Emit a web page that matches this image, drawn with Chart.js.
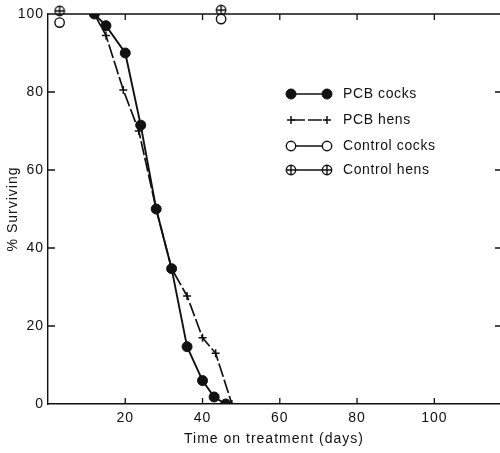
<!DOCTYPE html>
<html>
<head>
<meta charset="utf-8">
<script src="https://cdn.jsdelivr.net/npm/chart.js@4/dist/chart.umd.min.js"></script>
<style>
  html, body { margin: 0; padding: 0; background: #fff; }
  #wrap { width: 500px; height: 453px; }
</style>
</head>
<body>
<div id="wrap"><canvas id="survChart"></canvas></div>
<script>
// values: [day, % surviving]
const pcbCocksDays = [12, 15, 20, 24, 28, 32, 36, 40, 43, 46];
const pcbCocksSurv = [100, 97, 90, 71.5, 50, 34.7, 14.7, 6, 1.8, 0];
const pcbHensDays = [12, 15, 19.5, 23.5, 28, 32, 36, 40, 43.4, 47.6];
const pcbHensSurv = [100, 94.5, 80.5, 70, 50, 34.7, 27.7, 17, 13, 0];
const ctrlCocksDays = [3, 44.8];
const ctrlCocksSurv = [97.8, 98.7];
const ctrlHensDays = [3, 44.8];
const ctrlHensSurv = [100.8, 101];

const xTickValues = [20, 40, 60, 80, 100];
const yTickValues = [0, 20, 40, 60, 80, 100];
const legendLabels = ['PCB cocks', 'PCB hens', 'Control cocks', 'Control hens'];

const ink = '#111';
const fontFamily = '"Liberation Sans", Arial, sans-serif';

function pts(xs, ys) {
    return xs.map((x, i) => ({ x: x, y: ys[i] }));
}

// circle with a plus inside, for control hens
function circlePlus() {
    const c = document.createElement('canvas');
    c.width = 12; c.height = 12;
    const g = c.getContext('2d');
    g.strokeStyle = ink;
    g.lineWidth = 1.4;
    g.fillStyle = '#fff';
    g.beginPath();
    g.arc(6, 6, 4.7, 0, Math.PI * 2);
    g.fill();
    g.stroke();
    g.beginPath();
    g.moveTo(1.5, 6); g.lineTo(10.5, 6);
    g.moveTo(6, 1.5); g.lineTo(6, 10.5);
    g.stroke();
    return c;
}

// the print is slightly letter spaced
const spacing = {
    id: 'spacing',
    beforeLayout(chart) { chart.ctx.letterSpacing = '1px'; },
    beforeDraw(chart) { chart.ctx.letterSpacing = '1px'; }
};

const frame = {
    id: 'frame',
    afterDraw(chart) {
        const ctx = chart.ctx;
        const a = chart.chartArea;
        const xs = chart.scales.x, ys = chart.scales.y;
        ctx.save();
        ctx.strokeStyle = ink;
        ctx.lineWidth = 1.3;
        ctx.beginPath();
        // top border
        ctx.moveTo(a.left, a.top); ctx.lineTo(a.right, a.top);
        // inward ticks
        xTickValues.forEach(v => {
            const px = xs.getPixelForValue(v);
            ctx.moveTo(px, a.bottom); ctx.lineTo(px, a.bottom - 6);
            ctx.moveTo(px, a.top); ctx.lineTo(px, a.top + 6);
        });
        yTickValues.forEach(v => {
            if (v === 0 || v === 100) return;
            const py = ys.getPixelForValue(v);
            ctx.moveTo(a.left, py); ctx.lineTo(a.left + 7, py);
            ctx.moveTo(a.right, py); ctx.lineTo(a.right - 5, py);
        });
        ctx.stroke();
        ctx.restore();
    }
};

const legendBox = {
    id: 'legendBox',
    afterDatasetsDraw(chart) {
        const ctx = chart.ctx;
        const rows = [94, 120, 146, 170];
        const x1 = 291, x2 = 327, tx = 343;
        ctx.save();
        chart.data.datasets.forEach((ds, i) => {
            const y = rows[i];
            ctx.strokeStyle = ink;
            ctx.lineWidth = 1.6;
            ctx.setLineDash(ds.borderDash || []);
            ctx.beginPath();
            ctx.moveTo(x1, y); ctx.lineTo(x2, y);
            ctx.stroke();
            ctx.setLineDash([]);
            ctx.fillStyle = ds.pointBackgroundColor;
            ctx.lineWidth = ds.pointBorderWidth;
            [x1, x2].forEach(x => {
                Chart.helpers.drawPoint(ctx, {
                    pointStyle: ds.pointStyle,
                    radius: ds.pointRadius,
                    rotation: 0,
                    borderWidth: ds.pointBorderWidth
                }, x, y);
            });
            ctx.fillStyle = ink;
            ctx.font = '14px ' + fontFamily;
            ctx.letterSpacing = '0.6px';
            ctx.textBaseline = 'middle';
            ctx.fillText(legendLabels[i], tx, y);
        });
        ctx.restore();
    }
};

const ctx = document.getElementById('survChart').getContext('2d');
new Chart(ctx, {
    type: 'scatter',
    data: {
        datasets: [{
            label: legendLabels[0],
            data: pts(pcbCocksDays, pcbCocksSurv),
            showLine: true,
            borderColor: ink,
            borderWidth: 1.9,
            pointStyle: 'circle',
            pointRadius: 5,
            pointBackgroundColor: ink,
            pointBorderColor: ink,
            pointBorderWidth: 1
        }, {
            label: legendLabels[1],
            data: pts(pcbHensDays, pcbHensSurv),
            showLine: true,
            borderColor: ink,
            borderWidth: 1.7,
            borderDash: [14, 3],
            pointStyle: 'cross',
            pointRadius: 4,
            pointBackgroundColor: ink,
            pointBorderColor: ink,
            pointBorderWidth: 1.5
        }, {
            label: legendLabels[2],
            data: pts(ctrlCocksDays, ctrlCocksSurv),
            showLine: false,
            pointStyle: 'circle',
            pointRadius: 4.7,
            pointBackgroundColor: '#fff',
            pointBorderColor: ink,
            pointBorderWidth: 1.4,
            clip: false
        }, {
            label: legendLabels[3],
            data: pts(ctrlHensDays, ctrlHensSurv),
            showLine: false,
            pointStyle: circlePlus(),
            pointRadius: 5,
            pointBackgroundColor: '#fff',
            pointBorderColor: ink,
            pointBorderWidth: 1.4,
            clip: false
        }]
    },
    options: {
        responsive: true,
        maintainAspectRatio: false,
        animation: false,
        layout: { autoPadding: false, padding: { top: 14, right: 0, left: 0, bottom: 0 } },
        plugins: {
            legend: { display: false },
            tooltip: { enabled: false }
        },
        scales: {
            x: {
                type: 'linear',
                min: 0,
                max: 117,
                afterBuildTicks: s => { s.ticks = xTickValues.map(v => ({ value: v })); },
                afterFit: s => { s.height = 49; },
                grid: { display: false, drawTicks: false, tickLength: 0 },
                border: { display: true, color: ink, width: 1.4 },
                ticks: {
                    color: ink,
                    padding: 6,
                    maxRotation: 0,
                    font: { family: fontFamily, size: 14 }
                },
                title: {
                    display: true,
                    text: 'Time on treatment (days)',
                    color: ink,
                    padding: { top: 4, bottom: 5 },
                    font: { family: fontFamily, size: 14 }
                }
            },
            y: {
                min: 0,
                max: 100,
                afterBuildTicks: s => { s.ticks = yTickValues.map(v => ({ value: v })); },
                afterFit: s => { s.width = 48; },
                grid: { display: false, drawTicks: false, tickLength: 0 },
                border: { display: true, color: ink, width: 1.4 },
                ticks: {
                    color: ink,
                    padding: 4,
                    font: { family: fontFamily, size: 14 }
                },
                title: {
                    display: true,
                    text: '% Surviving',
                    color: ink,
                    padding: { top: 5, bottom: 2 },
                    font: { family: fontFamily, size: 14 }
                }
            }
        }
    },
    plugins: [spacing, frame, legendBox]
});
</script>
</body>
</html>
